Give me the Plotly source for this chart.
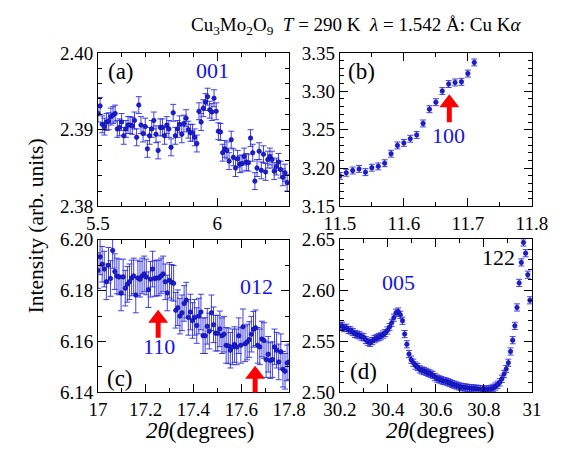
import numpy as np
import plotly.graph_objects as go
from plotly.subplots import make_subplots

FONT = "Liberation Serif"
PT_COLOR = "#1c1cd2"
BAR_COLOR = "rgba(45,45,225,0.9)"
LABEL_BLUE = "#1414e6"

# ---- (a) 001 region ----
a_start, a_step = 5.5, 0.009
a_int = [2.3921, 2.3931, 2.3907, 2.3904, 2.3910, 2.3911, 2.3917, 2.3919, 2.3921, 2.3901,
         2.3903, 2.3910, 2.3892, 2.3901, 2.3906, 2.3906, 2.3905, 2.3912, 2.3890, 2.3932,
         2.3906, 2.3895, 2.3904, 2.3875, 2.3892, 2.3901, 2.3912, 2.3894, 2.3873, 2.3903,
         2.3903, 2.3892, 2.3906, 2.3901, 2.3877, 2.3922, 2.3892, 2.3901, 2.3907, 2.3894,
         2.3908, 2.3915, 2.3900, 2.3896,
         2.3896, 2.3890, 2.3882, 2.3924, 2.3910, 2.3928, 2.3936, 2.3943, 2.3926, 2.3923,
         2.3941, 2.3924,
         2.3898, 2.3897, 2.3870, 2.3875, 2.3873, 2.3859, 2.3887, 2.3864, 2.3850, 2.3862,
         2.3855, 2.3856, 2.3865, 2.3858, 2.3857, 2.3889, 2.3870, 2.3833, 2.3850, 2.3872,
         2.3847, 2.3868, 2.3845, 2.3861, 2.3865, 2.3861, 2.3846, 2.3852, 2.3858, 2.3848,
         2.3838, 2.3844, 2.3831]
a_err = 0.0011

# ---- (b) 100 region ----
b_start, b_step = 11.50, 0.01
b_int = [3.1898, 3.1939, 3.1968, 3.1989, 3.1947, 3.2005, 3.2022, 3.2063, 3.2187, 3.2295,
         3.2328, 3.2382, 3.2432, 3.2581, 3.2767, 3.2858, 3.3003, 3.3094, 3.3115, 3.3123,
         3.3231, 3.3376]
b_err = 0.0045

# ---- (c) 110 / 012 region ----
c_start, c_step = 17.0, 0.0088
c_int = [6.1879, 6.1933, 6.1904, 6.1885, 6.1835, 6.1900, 6.1848, 6.1958, 6.1875, 6.1858,
         6.1854, 6.1791, 6.1854, 6.1810, 6.1825, 6.1835, 6.1850, 6.1858, 6.1783, 6.1850,
         6.1845, 6.1858, 6.1866, 6.1854, 6.1804, 6.1845, 6.1885, 6.1848, 6.1850, 6.1850,
         6.1858, 6.1866, 6.1835, 6.1791, 6.1841, 6.1833, 6.1829, 6.1723, 6.1733, 6.1700,
         6.1713, 6.1750, 6.1763, 6.1695, 6.1716, 6.1683, 6.1695, 6.1663, 6.1700, 6.1716,
         6.1623, 6.1623, 6.1660, 6.1641, 6.1713, 6.1666, 6.1633, 6.1633, 6.1650, 6.1623,
         6.1629, 6.1585, 6.1583, 6.1566, 6.1579, 6.1588, 6.1579, 6.1623, 6.1585, 6.1658,
         6.1591, 6.1598, 6.1608, 6.1629, 6.1648, 6.1654, 6.1585, 6.1579, 6.1610, 6.1604,
         6.1529, 6.1550, 6.1525, 6.1529, 6.1579, 6.1566, 6.1520, 6.1560, 6.1491, 6.1483,
         6.1516, 6.1520]
c_err = 0.0070

# ---- (d) 005 / 122 region ----
d_start, d_step = 30.2, 0.009
d_int = [2.5648, 2.5652, 2.5628, 2.5632, 2.5610, 2.5605, 2.5590, 2.5572, 2.5565, 2.5558,
         2.5545, 2.5538, 2.5512, 2.5495, 2.5484, 2.5502, 2.5520, 2.5530, 2.5540, 2.5548,
         2.5565, 2.5580, 2.5605, 2.5638, 2.5680, 2.5730, 2.5778, 2.5790, 2.5758, 2.5700,
         2.5570, 2.5470, 2.5375, 2.5320, 2.5290, 2.5262, 2.5248, 2.5225, 2.5215, 2.5208,
         2.5200, 2.5190, 2.5182, 2.5170, 2.5150, 2.5135, 2.5128, 2.5120, 2.5112, 2.5108,
         2.5100, 2.5092, 2.5082, 2.5075, 2.5068, 2.5060, 2.5055, 2.5050, 2.5048, 2.5045,
         2.5042, 2.5040, 2.5038, 2.5036, 2.5034, 2.5032, 2.5030, 2.5028, 2.5027, 2.5030,
         2.5035, 2.5045, 2.5058, 2.5075, 2.5098, 2.5133, 2.5180, 2.5228, 2.5290, 2.5400,
         2.5510, 2.5650, 2.5830, 2.6070, 2.6270, 2.6465, 2.6360, 2.6150, 2.5900]
d_err = 0.0035

# expected reflection positions marked with red arrows: (panel, 2theta, tip intensity)
arrow_marks = [("x2", "y2", 11.671, 3.296),
               ("x3", "y3", 17.252, 6.1725),
               ("x3", "y3", 17.658, 6.1505)]


def scan(start, step, n):
    return np.round(start + step * np.arange(n), 4)


fig = make_subplots(rows=2, cols=2)

panels = [
    (1, 1, scan(a_start, a_step, len(a_int)), a_int, a_err),
    (1, 2, scan(b_start, b_step, len(b_int)), b_int, b_err),
    (2, 1, scan(c_start, c_step, len(c_int)), c_int, c_err),
    (2, 2, scan(d_start, d_step, len(d_int)), d_int, d_err),
]
for r, c, x, y, e in panels:
    fig.add_trace(go.Scatter(
        x=x, y=y, mode="markers",
        marker=dict(size=4.5, color=PT_COLOR, line=dict(color="#0a0a9a", width=0.6)),
        error_y=dict(type="constant", value=e, color=BAR_COLOR, thickness=1, width=3),
        showlegend=False, cliponaxis=True), row=r, col=c)

W, H = 579, 453


def px_dom(p0, p1, total, flip=False):
    if flip:
        return [1 - p1 / total, 1 - p0 / total]
    return [p0 / total, p1 / total]


axis_common = dict(showline=True, linecolor="black", linewidth=1, mirror="allticks",
                   ticks="inside", ticklen=8, tickwidth=1, tickcolor="black",
                   showgrid=False, zeroline=False,
                   tickfont=dict(family=FONT, size=19, color="black"))

# x axes: range, major step, minor step, pixel extent
xspec = {
    (1, 1): ([5.5, 6.3], 0.5, 0.1, (86, 289)),
    (1, 2): ([11.5, 11.8], 0.1, 0.05, (343, 547)),
    (2, 1): ([17.0, 17.8], 0.2, 0.1, (86, 289)),
    (2, 2): ([30.2, 31.0], 0.2, 0.1, (343, 547)),
}
yspec = {
    (1, 1): ([2.38, 2.40], 0.01, 0.002, (45, 206)),
    (1, 2): ([3.15, 3.35], 0.05, 0.01, (45, 206)),
    (2, 1): ([6.14, 6.20], 0.02, 0.01, (241, 401)),
    (2, 2): ([2.50, 2.65], 0.05, 0.01, (240, 401)),
}
for (r, c), (rng, dt, mdt, (p0, p1)) in xspec.items():
    fig.update_xaxes(range=rng, tick0=rng[0], dtick=dt, domain=px_dom(p0, p1, W),
                     minor=dict(ticks="inside", ticklen=4, dtick=mdt, tick0=rng[0],
                                tickcolor="black", showgrid=False),
                     **axis_common, row=r, col=c)
for (r, c), (rng, dt, mdt, (p0, p1)) in yspec.items():
    fig.update_yaxes(range=rng, tick0=rng[0], dtick=dt, tickformat=".2f",
                     domain=px_dom(p0, p1, H, flip=True),
                     minor=dict(ticks="inside", ticklen=4, dtick=mdt, tick0=rng[0],
                                tickcolor="black", showgrid=False),
                     **axis_common, row=r, col=c)

ann = []


def text(xp, yp, s, size=22, color="black"):
    ann.append(dict(x=xp / W, y=1 - yp / H, xref="paper", yref="paper", text=s,
                    showarrow=False, xanchor="center", yanchor="middle",
                    font=dict(family=FONT, size=size, color=color)))


# panel letters and reflection labels
text(110, 65, "(a)", size=23)
text(366, 65, "(b)", size=23)
text(109, 386, "(c)", size=23)
text(368, 379, "(d)", size=23)
text(208, 63, "001", color=LABEL_BLUE)
text(458, 132, "100", color=LABEL_BLUE)
text(254, 290, "012", color=LABEL_BLUE)
text(151, 353, "110", color=LABEL_BLUE)
text(405, 286, "005", color=LABEL_BLUE)
text(512, 260, "122")

# title and axis titles
text(360, 17, "Cu<sub>3</sub>Mo<sub>2</sub>O<sub>9</sub>  <i>T</i> = 290 K  "
              "<i>λ</i> = 1.542 Å: Cu K<i>α</i>", size=19)
text(194, 441, "<i>2θ</i>(degrees)", size=23)
text(449, 441, "<i>2θ</i>(degrees)", size=23)
ann.append(dict(x=20 / W, y=1 - 226 / H, xref="paper", yref="paper",
                text="Intensity (arb. units)", showarrow=False, textangle=-90,
                xanchor="center", yanchor="middle",
                font=dict(family=FONT, size=21.5, color="black")))

# block arrows drawn in pixel units, anchored at the tip
ARROW_PATH = "M0,0 L10,-13 L2.5,-13 L2.5,-28 L-2.5,-28 L-2.5,-13 L-10,-13 Z"
shapes = []
for xr, yr, xa, ya in arrow_marks:
    shapes.append(dict(type="path", xref=xr, yref=yr, xsizemode="pixel", ysizemode="pixel",
                       xanchor=xa, yanchor=ya, path=ARROW_PATH,
                       fillcolor="#ff0000", line=dict(width=0)))

fig.update_layout(width=W, height=H, margin=dict(l=0, r=0, t=0, b=0),
                  paper_bgcolor="white", plot_bgcolor="white",
                  font=dict(family=FONT),
                  annotations=ann, shapes=shapes, showlegend=False)

fig.write_html("out.html")
